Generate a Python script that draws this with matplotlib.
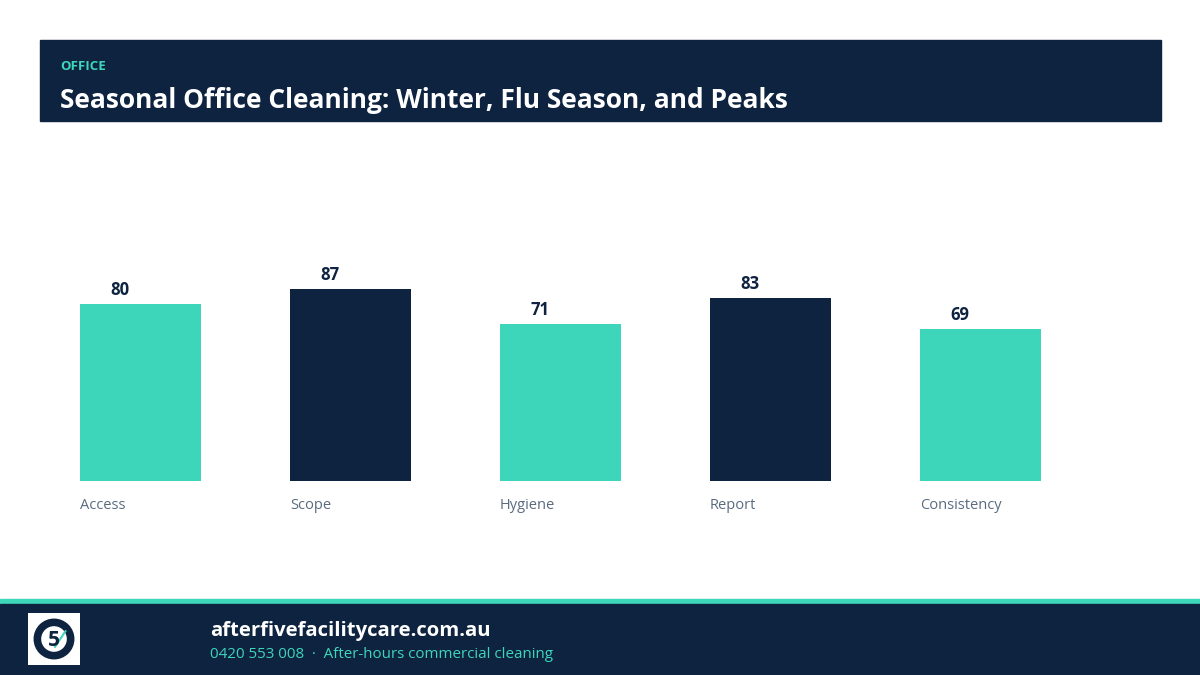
import matplotlib.pyplot as plt
from matplotlib.patches import Rectangle, Circle

# chart data
categories = ['Access', 'Scope', 'Hygiene', 'Report', 'Consistency']
scores = [80, 87, 71, 83, 69]
bar_colors = ['#3ed6ba', '#0e2340', '#3ed6ba', '#0e2340', '#3ed6ba']

kicker = 'OFFICE'
title = 'Seasonal Office Cleaning: Winter, Flu Season, and Peaks'
site = 'afterfivefacilitycare.com.au'
tagline = '0420 553 008  \u00b7  After-hours commercial cleaning'

NAVY = '#0e2340'
TEAL = '#3ed6ba'
W, H = 1200, 675

plt.rcParams['font.family'] = ['Open Sans', 'DejaVu Sans']

fig = plt.figure(figsize=(12, 6.75), dpi=100)
fig.patch.set_facecolor('white')

def px(x, y, w, h):
    # pixel box (top-left origin) -> figure fraction
    return [x / W, 1 - (y + h) / H, w / W, h / H]

# header band
fig.patches.append(Rectangle((40 / W, 1 - 121 / H), 1121 / W, 81 / H,
                             transform=fig.transFigure, color=NAVY, zorder=-1))
fig.text(60 / W, 1 - 66 / H, kicker, color=TEAL, fontsize=9.5, fontweight='bold', va='center')
fig.text(60 / W, 1 - 100 / H, title, color='white', fontsize=19, fontweight='bold', va='center')

# footer band
fig.patches.append(Rectangle((0, 1 - 604 / H), 1, 5 / H,
                             transform=fig.transFigure, color=TEAL, zorder=-1))
fig.patches.append(Rectangle((0, 0), 1, 71 / H,
                             transform=fig.transFigure, color=NAVY, zorder=-1))
fig.text(210 / W, 1 - 631 / H, site, color='white', fontsize=14.6, fontweight='bold', va='center')
fig.text(210 / W, 1 - 654 / H, tagline, color=TEAL, fontsize=10.9, va='center')

# logo placeholder
lax = fig.add_axes(px(28, 613, 52, 52), zorder=3)
lax.set_xlim(0, 1)
lax.set_ylim(0, 1)
lax.set_facecolor('white')
lax.add_patch(Circle((0.5, 0.5), 0.38, facecolor=NAVY, edgecolor=NAVY))
lax.add_patch(Circle((0.5, 0.5), 0.26, facecolor='white', edgecolor=NAVY, lw=1))
lax.text(0.5, 0.48, '5', color=NAVY, fontsize=15, fontweight='bold', ha='center', va='center')
lax.plot([0.52, 0.72], [0.35, 0.65], color=TEAL, lw=1.5)
lax.set_xticks([])
lax.set_yticks([])
for s in lax.spines.values():
    s.set_visible(False)

# bar chart
ax = fig.add_axes(px(80, 260, 961, 221), zorder=2)
xs = list(range(len(categories)))
width = 121 / 210
ax.bar(xs, scores, width=width, color=bar_colors)
ax.set_xlim(-width / 2, len(categories) - 1 + width / 2)
ax.set_ylim(0, 100)

for x, v in zip(xs, scores):
    ax.annotate(str(v), (x, v), xytext=(-15, 3.5), textcoords='offset points',
                ha='center', va='bottom', fontsize=12, fontweight='bold', color=NAVY)
    ax.annotate(categories[x], (x - width / 2, 0), xytext=(0, -17.5), textcoords='offset points',
                ha='left', va='center', fontsize=10.5, color='#5a6b80')

ax.set_xticks([])
ax.set_yticks([])
for s in ax.spines.values():
    s.set_visible(False)
ax.patch.set_alpha(0)

fig.savefig('out.png', dpi=100, facecolor='white')
